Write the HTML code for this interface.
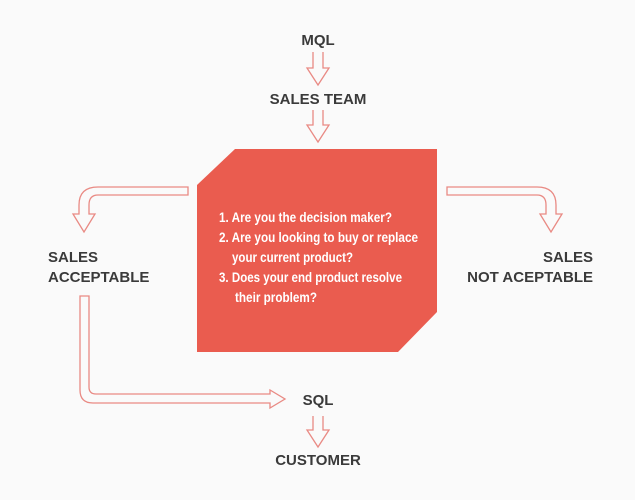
<!DOCTYPE html>
<html><head><style>
html,body{margin:0;padding:0;background:#fafafa;}
svg{display:block}
text{font-family:"Liberation Sans",sans-serif;font-weight:bold;fill:#3a3a3a;font-size:15px}
.t{font-family:"Liberation Sans",sans-serif;font-weight:bold;fill:#fff;font-size:14px}
.a{fill:none;stroke:#e98a84;stroke-width:1.3}
</style></head><body>
<svg width="635" height="500" viewBox="0 0 635 500">
<rect width="635" height="500" fill="#fafafa"/>
<polygon points="197,185 235,149 437,149 437,312 398,352 197,352" fill="#ea5c4f"/>
<text x="318" y="45" text-anchor="middle">MQL</text>
<text x="318" y="104" text-anchor="middle">SALES TEAM</text>
<text x="318" y="405" text-anchor="middle">SQL</text>
<text x="318" y="465" text-anchor="middle">CUSTOMER</text>
<text x="48" y="262">SALES</text>
<text x="48" y="282">ACCEPTABLE</text>
<text x="593" y="262" text-anchor="end">SALES</text>
<text x="593" y="282" text-anchor="end">NOT ACEPTABLE</text>
<text class="t" x="219" y="222" textLength="173" lengthAdjust="spacingAndGlyphs">1. Are you the decision maker?</text>
<text class="t" x="219" y="242" textLength="199" lengthAdjust="spacingAndGlyphs">2. Are you looking to buy or replace</text>
<text class="t" x="232" y="262" textLength="121" lengthAdjust="spacingAndGlyphs">your current product?</text>
<text class="t" x="219" y="282" textLength="183" lengthAdjust="spacingAndGlyphs">3. Does your end product resolve</text>
<text class="t" x="235" y="302" textLength="82" lengthAdjust="spacingAndGlyphs">their problem?</text>
<path class="a" d="M313,52 V68 H307 L318,85 L329,68 H323 V52"/>
<path class="a" d="M313,110 V125 H307 L318,142 L329,125 H323 V110"/>
<path class="a" d="M313,416 V430 H307 L318,447 L329,430 H323 V416"/>
<path class="a" d="M188,187 H98 Q79,187 79,205 V214 H73 L84,232 L95,214 H89 V205 Q89,195 98,195 H188 Z"/>
<path class="a" d="M447,187 H537 Q556,187 556,205 V214 H562 L551,232 L540,214 H546 V205 Q546,195 537,195 H447 Z"/>
<path class="a" d="M80,296 V390 Q80,403 93,403 H270 V408 L285,399 L270,390 V394 H96 Q89,394 89,387 V296 Z"/>
</svg>
</body></html>
